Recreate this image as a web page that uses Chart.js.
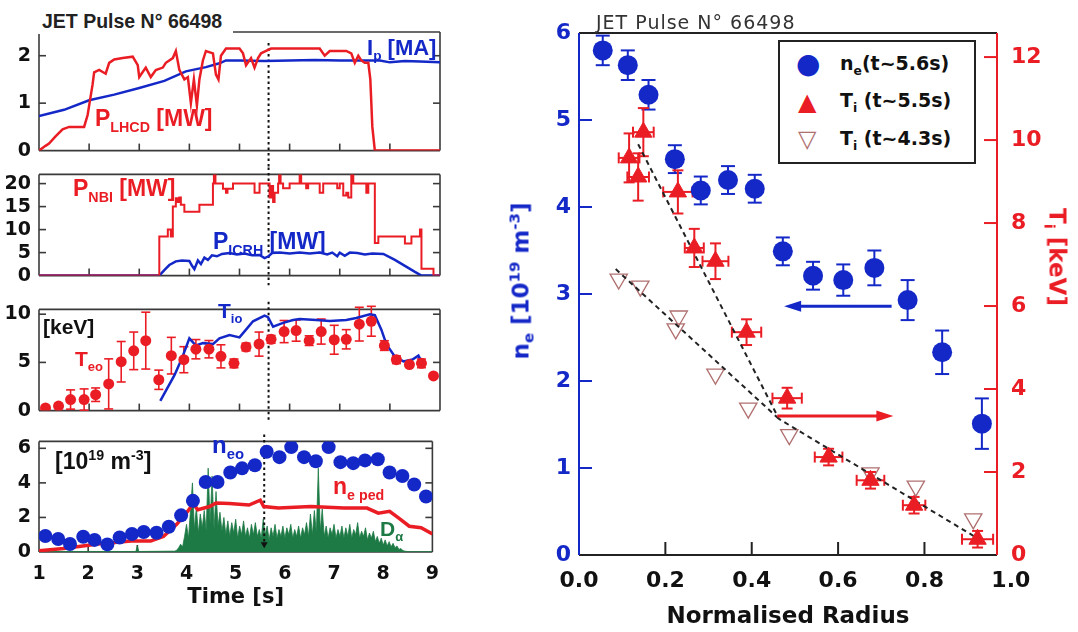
<!DOCTYPE html>
<html>
<head>
<meta charset="utf-8">
<title>JET Pulse 66498</title>
<script src="https://cdn.jsdelivr.net/npm/chart.js@4.4.1/dist/chart.umd.min.js"></script>
<style>
  body { margin: 0; background: #fff; }
  #page { position: relative; width: 1078px; height: 632px; overflow: hidden; font-family: "Liberation Sans", Arial, sans-serif; }
  canvas { position: absolute; }
  .t { position: absolute; font-weight: bold; white-space: nowrap; line-height: 1; }
  .t sub { font-size: 0.62em; vertical-align: -0.4em; line-height: 0; }
  .t sup { font-size: 0.62em; vertical-align: 0.6em; line-height: 0; }
  .rot { position: absolute; white-space: nowrap; font-family: "DejaVu Sans", sans-serif; font-weight: bold; font-size: 23px; line-height: 1; }
  .rot sub { font-size: 0.65em; vertical-align: -0.35em; line-height: 0; }
  .rot sup { font-size: 0.65em; vertical-align: 0.6em; line-height: 0; }
  #legend { position: absolute; left: 778px; top: 40px; width: 198px; height: 124px; border: 2px solid #222; box-sizing: border-box; background: #fff; font-family: "DejaVu Sans", sans-serif; font-weight: bold; font-size: 19px; color: #111; }
  #legend div { position: absolute; white-space: nowrap; line-height: 1; }
  #legend sub { font-size: 0.65em; vertical-align: -0.4em; line-height: 0; }
</style>
</head>
<body>
<div id="page">
  <canvas id="pLh" width="450" height="170" style="left:0;top:0"></canvas>
  <canvas id="pNbi" width="450" height="140" style="left:0;top:155px"></canvas>
  <canvas id="pTe" width="450" height="140" style="left:0;top:290px"></canvas>
  <canvas id="pNe" width="450" height="210" style="left:0;top:422px"></canvas>
  <canvas id="prof" width="578" height="632" style="left:500px;top:0"></canvas>

  <div class="t" style="left:38px;top:8px;width:195px;height:26px;padding:4px 0 0 4px;box-sizing:border-box;background:#fff;font-size:19.5px;color:#222">JET Pulse N° 66498</div>
  <div class="t" style="left:95px;top:107px;font-size:23px;color:#ea1d25">P<sub>LHCD</sub> [MW]</div>
  <div class="t" style="left:367px;top:37px;font-size:22px;color:#1428c8">I<sub>p</sub> [MA]</div>
  <div class="t" style="left:73px;top:177px;font-size:23px;color:#ea1d25">P<sub>NBI</sub> [MW]</div>
  <div class="t" style="left:213px;top:230px;font-size:23px;color:#1428c8">P<sub>ICRH</sub> [MW]</div>
  <div class="t" style="left:43px;top:316px;font-size:21px;color:#111">[keV]</div>
  <div class="t" style="left:75px;top:348px;font-size:21px;color:#ea1d25">T<sub>eo</sub></div>
  <div class="t" style="left:218px;top:300px;font-size:21px;color:#1428c8">T<sub>io</sub></div>
  <div class="t" style="left:55px;top:450px;font-size:23px;color:#111">[10<sup>19</sup> m<sup>-3</sup>]</div>
  <div class="t" style="left:212px;top:433px;font-size:24px;color:#1428c8">n<sub>eo</sub></div>
  <div class="t" style="left:333px;top:475px;font-size:23px;color:#ea1d25">n<sub>e ped</sub></div>
  <div class="t" style="left:380px;top:518px;font-size:21px;color:#1d7a45">D<sub>α</sub></div>

  <div class="t" style="left:596px;top:13px;font-family:'DejaVu Sans',sans-serif;font-weight:normal;font-size:19px;letter-spacing:1px;color:#333">JET Pulse N° 66498</div>
  <div class="rot" style="left:521px;top:281px;color:#1428c8;transform:translate(-50%,-50%) rotate(-90deg)">n<sub>e</sub> [10<sup>19</sup> m<sup>-3</sup>]</div>
  <div class="rot" style="left:1057px;top:257px;color:#ea1d25;transform:translate(-50%,-50%) rotate(90deg)">T<sub>i</sub> [keV]</div>

  <div id="legend">
    <div style="left:16px;top:8px;font-size:28px;color:#1428c8">●</div>
    <div style="left:60px;top:12px">n<sub>e</sub>(t~5.6s)</div>
    <div style="left:18px;top:48px;font-size:24px;color:#ea1d25">▲</div>
    <div style="left:60px;top:49px">T<sub>i</sub> (t~5.5s)</div>
    <div style="left:18px;top:85px;font-size:24px;color:#b07070">▽</div>
    <div style="left:60px;top:87px">T<sub>i</sub> (t~4.3s)</div>
  </div>
</div>

<script>
// ---- time traces ----
const ipT = [1.0, 1.5, 2.0, 2.5, 3.0, 3.5, 3.93, 4.33, 4.6, 4.73, 5.0, 5.5, 6.0, 6.5, 7.0, 7.5, 7.8, 8.0, 8.3, 8.6, 9.0];
const ipV = [0.73, 0.86, 1.06, 1.18, 1.32, 1.47, 1.67, 1.76, 1.84, 1.9, 1.9, 1.89, 1.9, 1.91, 1.9, 1.9, 1.9, 1.86, 1.89, 1.88, 1.86];

const lhT = [1.0, 1.13, 1.2, 1.33, 1.47, 1.6, 1.73, 1.9, 1.97, 2.07, 2.1, 2.2, 2.33, 2.4, 2.5, 2.67, 2.87, 2.97, 3.0, 3.13,
  3.23, 3.33, 3.47, 3.53, 3.67, 3.73, 3.8, 3.9, 3.97, 4.03, 4.09, 4.15, 4.2, 4.27, 4.33, 4.47, 4.53, 4.58, 4.63, 4.73,
  5.0, 5.07, 5.13, 5.23, 5.3, 5.37, 5.43, 5.53, 5.63, 6.6, 6.7, 6.8, 7.13, 7.23, 7.3, 7.37, 7.43, 7.5, 7.57, 7.61,
  7.65, 7.7, 9.0];
const lhV = [0, 0.1, 0.15, 0.3, 0.45, 0.5, 0.5, 0.5, 0.75, 1.4, 1.65, 1.7, 1.62, 1.85, 1.92, 1.95, 1.98, 1.8, 1.55, 1.75,
  1.55, 1.7, 1.75, 1.85, 1.95, 2.1, 1.7, 1.5, 1.55, 1.0, 1.5, 0.95, 1.5, 1.9, 2.1, 2.05, 1.6, 1.5, 2.0, 2.15,
  2.15, 2.05, 1.8, 1.95, 1.75, 1.95, 2.05, 2.1, 2.15, 2.15, 2.0, 2.1, 2.1, 2.05, 1.85, 2.0, 1.9, 1.85, 1.85, 1.5,
  0.5, 0, 0];

// NBI power changes value at each listed time
const nbT = [1.0, 3.4, 3.57, 3.63, 3.67, 3.73, 3.77, 3.8, 3.83, 3.9, 4.2, 4.47, 4.49, 4.52, 4.67, 4.73, 4.76, 4.87, 5.3, 5.4,
  5.6, 5.63, 5.67, 5.7, 5.77, 5.79, 5.82, 5.87, 6.0, 6.2, 6.23, 6.33, 6.37, 6.6, 6.67, 6.95, 7.0, 7.07, 7.13, 7.17,
  7.23, 7.27, 7.53, 7.57, 7.7, 7.77, 8.3, 8.43, 8.6, 8.63, 8.87, 9.0];
const nbV = [0, 8.5, 10, 8.5, 15, 16.8, 16, 17, 15.4, 13.9, 15.4, 20, 22, 20, 18.9, 18, 18.9, 20, 18, 20,
  17, 19.5, 16, 18, 20, 22, 20, 19, 20, 22, 20, 19, 20, 18, 20, 19, 20, 17.4, 18, 17,
  22, 20, 18, 20, 7.1, 8.5, 7, 8.5, 10, 1.5, 0, 0];

const icT = [1.0, 3.4, 3.5, 3.6, 3.73, 3.85, 4.0, 4.05, 4.1, 4.17, 4.23, 4.3, 4.37, 4.45, 4.55, 4.65, 4.8, 4.95, 5.1, 5.25,
  5.4, 5.5, 5.58, 5.65, 5.8, 6.0, 6.2, 6.4, 6.6, 6.75, 6.85, 6.95, 7.0, 7.1, 7.2, 7.35, 7.5, 7.65, 7.87, 8.1,
  8.3, 8.5, 8.63, 9.0];
const icV = [0, 0, 1.2, 2.3, 3.1, 3.3, 3.2, 2.2, 1.4, 3.3, 2.5, 3.9, 3.4, 4.4, 4.2, 4.7, 4.9, 4.6, 4.8, 4.4,
  4.5, 3.8, 4.2, 4.9, 5.0, 4.8, 5.0, 4.8, 5.0, 4.6, 5.0, 4.2, 5.0, 4.3, 5.0, 4.9, 4.6, 4.8, 4.7, 3.4,
  2.1, 0.8, 0, 0];

// central Te and ne share the same profile times
const profT = [1.13, 1.39, 1.63, 1.9, 2.13, 2.39, 2.64, 2.89, 3.13, 3.39, 3.64, 3.89, 4.13, 4.39, 4.63, 4.89,
  5.13, 5.39, 5.63, 5.89, 6.13, 6.39, 6.63, 6.89, 7.13, 7.39, 7.63, 7.89, 8.13, 8.39, 8.63, 8.87];
const teV = [0.27, 0.47, 1.15, 1.15, 1.65, 2.77, 5.07, 6.2, 7.26, 3.2, 5.7, 5.28, 6.37, 6.37, 5.63, 4.9,
  6.6, 6.9, 7.4, 8.2, 8.3, 7.26, 8.2, 7.35, 7.4, 8.97, 9.27, 6.75, 5.28, 4.78, 4.9, 3.6];
const teErr = [0, 0, 1.0, 1.1, 0.7, 2.6, 2.1, 1.95, 2.95, 1.0, 1.9, 1.35, 1.0, 0.9, 1.2, 0.45,
  0.4, 1.25, 0.4, 1.15, 1.1, 0.5, 1.3, 1.5, 1.0, 1.75, 1.55, 0.5, 0.4, 0, 0.45, 0];
const neoV = [0.93, 0.75, 0.46, 0.88, 0.7, 0.44, 0.84, 1.04, 1.16, 1.11, 1.46, 2.12, 2.96, 4.05, 4.05, 4.6,
  4.84, 5.02, 5.8, 5.49, 6.07, 5.49, 5.25, 6.07, 5.2, 5.14, 5.3, 5.37, 4.6, 4.4, 3.91, 3.21];

const tiT = [3.42, 3.7, 3.85, 4.0, 4.13, 4.27, 4.47, 4.6, 4.8, 5.0, 5.13, 5.27, 5.5, 5.57, 5.67, 5.87,
  6.07, 6.2, 6.53, 6.8, 7.13, 7.33, 7.6, 7.7, 7.83, 7.93, 8.1, 8.27, 8.45, 8.57, 8.6];
const tiV = [1.0, 3.65, 5.4, 7.5, 6.75, 7.0, 6.9, 7.5, 7.85, 7.6, 8.4, 9.27, 9.85, 9.7, 8.7, 9.1,
  9.4, 9.5, 9.4, 9.3, 9.4, 9.6, 10.0, 9.9, 8.4, 6.9, 5.6, 5.1, 5.3, 5.7, 5.4];

const npT = [1.0, 1.5, 2.2, 2.87, 3.27, 3.53, 3.8, 4.03, 4.13, 4.23, 4.47, 4.6, 4.87, 5.27, 5.5, 5.57,
  5.87, 6.53, 7.2, 7.67, 7.9, 8.13, 8.33, 8.53, 8.77, 9.0];
const npV = [0.07, 0.2, 0.46, 0.63, 0.63, 0.9, 1.6, 2.38, 2.8, 2.45, 2.63, 2.84, 2.8, 2.72, 3.0, 2.63,
  2.54, 2.63, 2.54, 2.54, 2.25, 2.35, 1.93, 1.49, 1.4, 1.05];

// D-alpha: quiet edge samples plus the burst sampled every 40 ms from 3.8 s
const daEdgeT = [1.0, 2.97, 3.0, 3.03, 3.76, 8.52, 9.0];
const daEdgeV = [0.03, 0.03, 0.35, 0.03, 0.05, 0.02, 0.02];
const daStart = 3.8, daStep = 0.04;
const daV = [0.10, 0.25, 0.45, 0.30, 0.90, 1.60, 0.80, 2.40, 4.00, 1.30, 2.60, 1.10, 2.20, 1.40, 2.40, 1.20,
  4.85, 1.60, 4.40, 1.30, 3.50, 1.50, 2.30, 1.20, 2.00, 1.00, 1.80, 0.90, 1.70, 1.10, 1.90, 0.80,
  1.50, 1.00, 1.80, 0.90, 1.40, 0.80, 1.60, 1.00, 1.70, 0.90, 1.30, 0.80, 1.90, 1.00, 1.50, 0.70,
  1.40, 0.90, 1.60, 0.80, 1.30, 0.90, 1.50, 0.80, 1.40, 1.00, 1.60, 0.80, 1.30, 0.90, 1.50, 0.80,
  1.40, 1.00, 1.70, 0.90, 2.20, 1.00, 2.40, 1.10, 4.85, 1.20, 2.50, 0.90, 1.50, 0.80, 1.40, 1.00,
  1.60, 0.80, 1.30, 0.90, 1.50, 0.80, 1.40, 0.90, 1.60, 0.80, 1.30, 1.00, 1.70, 0.80, 1.20, 0.90,
  1.40, 0.70, 1.10, 0.80, 1.20, 0.60, 0.90, 0.50, 0.80, 0.40, 0.70, 0.35, 0.60, 0.30, 0.50, 0.25,
  0.35, 0.15, 0.20, 0.08, 0.05, 0.03];

const markT = 5.58;

// ---- radial profiles ----
const neR = [0.055, 0.113, 0.161, 0.222, 0.282, 0.345, 0.407, 0.472, 0.542, 0.612, 0.684, 0.761, 0.841, 0.933];
const neV = [5.8, 5.63, 5.29, 4.55, 4.19, 4.31, 4.21, 3.49, 3.21, 3.16, 3.30, 2.93, 2.33, 1.51];
const neErr = [0.17, 0.17, 0.17, 0.16, 0.16, 0.16, 0.16, 0.16, 0.16, 0.18, 0.2, 0.23, 0.25, 0.29];

const ti55R = [0.116, 0.137, 0.149, 0.229, 0.267, 0.316, 0.388, 0.482, 0.578, 0.675, 0.776, 0.923];
const ti55V = [9.57, 9.11, 10.19, 8.75, 7.4, 7.08, 5.37, 3.78, 2.36, 1.8, 1.2, 0.38];
const ti55Err = [0.59, 0.57, 0.58, 0.52, 0.46, 0.43, 0.31, 0.25, 0.2, 0.2, 0.2, 0.2];
const ti55RErr = [0.024, 0.025, 0.024, 0.034, 0.022, 0.03, 0.034, 0.034, 0.032, 0.032, 0.026, 0.036];

const ti43R = [0.092, 0.142, 0.231, 0.224, 0.316, 0.392, 0.487, 0.675, 0.78, 0.913];
const ti43V = [6.65, 6.48, 5.76, 5.45, 4.36, 3.54, 2.9, 1.98, 1.66, 0.87];

// dashed guide lines through the Ti profiles
const fitSteepR = [0.137, 0.463, 0.92];
const fitSteepV = [9.9, 3.28, 0.42];
const fitEarlyR = [0.085, 0.463];
const fitEarlyV = [6.89, 3.28];

const radiusTicks = [0, 0.2, 0.4, 0.6, 0.8, 1.0];
const neTicks = [0, 1, 2, 3, 4, 5, 6];
const tiTicks = [0, 2, 4, 6, 8, 10, 12];

const RED = '#ea1d25', BLUE = '#1428c8', GREEN = '#1d7a45', ROSY = '#b07070', INK = '#222';

const pts = (xs, ys) => xs.map((x, i) => ({ x, y: ys[i] }));

function dalphaPoints() {
  const burst = daV.map((v, i) => ({ x: daStart + i * daStep, y: v }));
  return pts(daEdgeT, daEdgeV).concat(burst).sort((a, b) => a.x - b.x);
}

// frame, inward tick marks, error bars and arrows, set per canvas
const decorCfg = {};

const decor = {
  id: 'decor',
  beforeDatasetsDraw(chart) {
    const cfg = decorCfg[chart.canvas.id];
    if (!cfg) return;
    const { ctx, chartArea: a, scales } = chart;
    ctx.save();
    ctx.lineWidth = cfg.width;
    const seg = (c, x1, y1, x2, y2) => {
      ctx.strokeStyle = c;
      ctx.beginPath(); ctx.moveTo(x1, y1); ctx.lineTo(x2, y2); ctx.stroke();
    };
    const f = cfg.frame;
    seg(f.top, a.left, a.top, a.right, a.top);
    seg(f.bottom, a.left, a.bottom, a.right, a.bottom);
    seg(f.left, a.left, a.top, a.left, a.bottom);
    seg(f.right, a.right, a.top, a.right, a.bottom);

    cfg.marks.forEach(m => {
      const s = scales[m.scale];
      m.at.forEach(v => {
        const p = s.getPixelForValue(v);
        if (m.side === 'bottom') seg(m.color, p, a.bottom, p, a.bottom - m.len);
        if (m.side === 'left') seg(m.color, a.left, p, a.left + m.len, p);
        if (m.side === 'right') seg(m.color, a.right, p, a.right - m.len, p);
      });
    });

    chart.data.datasets.forEach((ds, i) => {
      if (!ds.errY && !ds.errX) return;
      const meta = chart.getDatasetMeta(i);
      const xs = scales[meta.xAxisID], ys = scales[meta.yAxisID];
      const cap = ds.errCap;
      ctx.lineWidth = ds.errWidth;
      ds.data.forEach((d, j) => {
        const px = xs.getPixelForValue(d.x), py = ys.getPixelForValue(d.y);
        if (ds.errY && ds.errY[j]) {
          const y1 = ys.getPixelForValue(d.y + ds.errY[j]), y2 = ys.getPixelForValue(d.y - ds.errY[j]);
          seg(ds.errColor, px, y1, px, y2);
          seg(ds.errColor, px - cap, y1, px + cap, y1);
          seg(ds.errColor, px - cap, y2, px + cap, y2);
        }
        if (ds.errX && ds.errX[j]) {
          const x1 = xs.getPixelForValue(d.x - ds.errX[j]), x2 = xs.getPixelForValue(d.x + ds.errX[j]);
          seg(ds.errColor, x1, py, x2, py);
          seg(ds.errColor, x1, py - cap, x1, py + cap);
          seg(ds.errColor, x2, py - cap, x2, py + cap);
        }
      });
    });
    ctx.restore();
  },
  afterDatasetsDraw(chart) {
    const cfg = decorCfg[chart.canvas.id];
    if (!cfg || !cfg.arrows) return;
    const { ctx, scales } = chart;
    ctx.save();
    cfg.arrows.forEach(ar => {
      const xs = scales.x, ys = scales[ar.axis];
      const x1 = xs.getPixelForValue(ar.from), x2 = xs.getPixelForValue(ar.to), y = ys.getPixelForValue(ar.y);
      const dir = Math.sign(x2 - x1);
      ctx.strokeStyle = ctx.fillStyle = ar.color;
      ctx.lineWidth = 3;
      ctx.beginPath(); ctx.moveTo(x1, y); ctx.lineTo(x2 - dir * 12, y); ctx.stroke();
      ctx.beginPath(); ctx.moveTo(x2, y); ctx.lineTo(x2 - dir * 17, y - 5.5); ctx.lineTo(x2 - dir * 17, y + 5.5);
      ctx.closePath(); ctx.fill();
    });
    ctx.restore();
  }
};
Chart.register(decor);

const tickFont = { family: 'DejaVu Sans', weight: 'bold', size: 19 };

function marker(top, bottom, arrow) {
  return {
    data: [{ x: markT, y: top }, { x: markT, y: bottom }],
    showLine: true, clip: false, borderColor: '#111', borderWidth: 2, borderDash: [2.5, 3],
    pointRadius: arrow ? [0, 4] : 0, pointStyle: 'triangle', rotation: 180,
    pointBackgroundColor: '#111', pointBorderWidth: 0, order: 5
  };
}

function panel(id, pad, yMax, yTicks, datasets, withTime) {
  const inner = yTicks.filter(v => v > 0);
  decorCfg[id] = {
    width: 1.6,
    frame: { top: '#3a3a3a', bottom: '#3a3a3a', left: '#3a3a3a', right: '#3a3a3a' },
    marks: [
      { scale: 'x', side: 'bottom', at: [2, 3, 4, 5, 6, 7, 8], len: 7, color: '#3a3a3a' },
      { scale: 'y', side: 'left', at: inner, len: 7, color: '#3a3a3a' },
      { scale: 'y', side: 'right', at: inner, len: 7, color: '#3a3a3a' }
    ]
  };
  return new Chart(document.getElementById(id), {
    type: 'scatter',
    data: { datasets },
    options: {
      responsive: false, animation: false, devicePixelRatio: 1, events: [],
      layout: { padding: pad },
      plugins: { legend: { display: false }, tooltip: { enabled: false } },
      elements: { line: { tension: 0 } },
      scales: {
        x: {
          type: 'linear', min: 1, max: 9, display: withTime,
          afterBuildTicks: s => { s.ticks = [1, 2, 3, 4, 5, 6, 7, 8, 9].map(v => ({ value: v })); },
          afterFit: s => { s.height = withTime ? 80 : 0; },
          grid: { display: false, drawTicks: false }, border: { display: false },
          ticks: { font: tickFont, color: '#111', padding: 11, maxRotation: 0, autoSkip: false },
          title: { display: true, text: 'Time [s]', color: '#111', font: { family: 'DejaVu Sans', weight: 'bold', size: 21 }, padding: { top: 0, bottom: 22 } }
        },
        y: {
          type: 'linear', min: 0, max: yMax,
          afterBuildTicks: s => { s.ticks = yTicks.map(v => ({ value: v })); },
          afterFit: s => { s.width = 39; },
          grid: { display: false, drawTicks: false }, border: { display: false },
          ticks: { font: tickFont, color: '#111', padding: 8 }
        }
      }
    }
  });
}

const line = (data, color, width, order) => ({
  data, showLine: true, borderColor: color, borderWidth: width, pointRadius: 0, order
});

panel('pLh', { top: 32, right: 10, bottom: 18, left: 0 }, 2.5, [0, 1, 2], [
  line(pts(lhT, lhV), RED, 2.5, 0),
  line(pts(ipT, ipV), BLUE, 2.5, 1),
  marker(2.27, -0.4, false)
], false);

panel('pNbi', { top: 8, right: 10, bottom: 11, left: 0 }, 22, [0, 5, 10, 15, 20], [
  Object.assign(line(pts(nbT, nbV), RED, 2, 0), { stepped: 'before' }),
  line(pts(icT, icV), BLUE, 2.5, 1),
  marker(23.5, -2.1, false)
], false);

panel('pTe', { top: 9, right: 10, bottom: 11, left: 0 }, 10.5, [0, 5, 10], [
  {
    data: pts(profT, teV), pointRadius: 5.5, pointBackgroundColor: RED, pointBorderWidth: 0,
    errY: teErr, errColor: RED, errCap: 4.5, errWidth: 1.6, order: 0
  },
  line(pts(tiT, tiV), BLUE, 2.5, 1),
  marker(11.3, -1.0, false)
], false);

panel('pNe', { top: 8, right: 10, bottom: 0, left: 0 }, 6.4, [0, 2, 4, 6], [
  { data: pts(profT, neoV), pointRadius: 7, pointBackgroundColor: BLUE, pointBorderWidth: 0, order: 0 },
  line(pts(npT, npV), RED, 3.5, 1),
  marker(6.8, 0.45, true),
  {
    data: dalphaPoints(), showLine: true, borderColor: GREEN, borderWidth: 0.8,
    backgroundColor: GREEN, fill: 'origin', pointRadius: 0, order: 8
  }
], true);

// ---- profile chart ----
decorCfg.prof = {
  width: 2,
  frame: { top: INK, bottom: INK, left: BLUE, right: RED },
  marks: [
    { scale: 'x', side: 'bottom', at: [0.2, 0.4, 0.6, 0.8], len: 13, color: INK },
    { scale: 'y', side: 'left', at: [1, 2, 3, 4, 5], len: 13, color: BLUE },
    { scale: 'yR', side: 'right', at: [2, 4, 6, 8, 10, 12], len: 13, color: RED }
  ],
  arrows: [
    { axis: 'y', from: 0.724, to: 0.475, y: 2.86, color: BLUE },
    { axis: 'yR', from: 0.459, to: 0.728, y: 3.35, color: RED }
  ]
};

const profFont = { family: 'DejaVu Sans', weight: 'bold', size: 22 };

new Chart(document.getElementById('prof'), {
  type: 'scatter',
  data: {
    datasets: [
      {
        data: pts(neR, neV), yAxisID: 'y', pointRadius: 10, pointBackgroundColor: BLUE, pointBorderWidth: 0,
        errY: neErr, errColor: BLUE, errCap: 7, errWidth: 2, order: 0
      },
      {
        data: pts(ti55R, ti55V), yAxisID: 'yR', pointStyle: 'triangle', pointRadius: 10,
        pointBackgroundColor: RED, pointBorderColor: RED, pointBorderWidth: 1,
        errY: ti55Err, errX: ti55RErr, errColor: RED, errCap: 5.5, errWidth: 2, order: 1
      },
      {
        data: pts(fitSteepR, fitSteepV), yAxisID: 'yR', showLine: true, borderColor: INK,
        borderWidth: 2, borderDash: [5, 4], pointRadius: 0, order: 2
      },
      {
        data: pts(fitEarlyR, fitEarlyV), yAxisID: 'yR', showLine: true, borderColor: INK,
        borderWidth: 2, borderDash: [5, 4], pointRadius: 0, order: 3
      },
      {
        data: pts(ti43R, ti43V), yAxisID: 'yR', pointStyle: 'triangle', rotation: 180, pointRadius: 10,
        pointBackgroundColor: 'rgba(255,255,255,0)', pointBorderColor: ROSY, pointBorderWidth: 1.3, order: 4
      }
    ]
  },
  options: {
    responsive: false, animation: false, devicePixelRatio: 1, events: [],
    layout: { padding: { top: 33, left: 0, right: 0, bottom: 0 } },
    plugins: { legend: { display: false }, tooltip: { enabled: false } },
    scales: {
      x: {
        type: 'linear', min: 0, max: 0.968,
        afterBuildTicks: s => { s.ticks = radiusTicks.map(v => ({ value: v })); },
        afterFit: s => { s.height = 77; },
        grid: { display: false, drawTicks: false }, border: { display: false },
        ticks: { font: profFont, color: '#111', padding: 13, maxRotation: 0, autoSkip: false, callback: v => v.toFixed(1) },
        title: { display: true, text: 'Normalised Radius', color: '#111', font: { family: 'DejaVu Sans', weight: 'bold', size: 23 }, padding: { top: 0, bottom: 1 } }
      },
      y: {
        type: 'linear', position: 'left', min: 0, max: 6,
        afterBuildTicks: s => { s.ticks = neTicks.map(v => ({ value: v })); },
        afterFit: s => { s.width = 79; },
        grid: { display: false, drawTicks: false }, border: { display: false },
        ticks: { font: profFont, color: BLUE, padding: 8 }
      },
      yR: {
        type: 'linear', position: 'right', min: 0, max: 12.58,
        afterBuildTicks: s => { s.ticks = tiTicks.map(v => ({ value: v })); },
        afterFit: s => { s.width = 81; },
        grid: { display: false, drawTicks: false }, border: { display: false },
        ticks: { font: profFont, color: RED, padding: 14 }
      }
    }
  }
});
</script>
</body>
</html>
